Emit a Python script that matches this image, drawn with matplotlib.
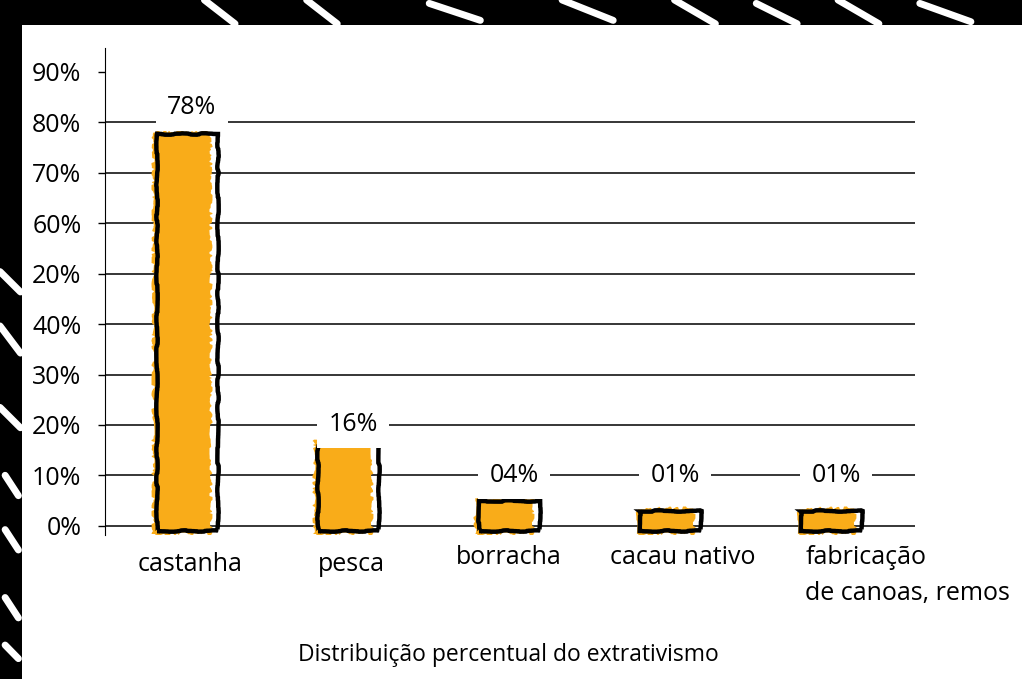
import matplotlib
matplotlib.use("Agg")
import matplotlib.pyplot as plt
import matplotlib.patches as mpatches

# data
categories = ["castanha", "pesca", "borracha", "cacau nativo", "fabricação\nde canoas, remos"]
bar_heights = [77.6, 16.4, 5, 3, 3]
value_labels = ["78%", "16%", "04%", "01%", "01%"]
label_heights = [83, 20, 10, 10, 10]
tick_values = [0, 10, 20, 30, 40, 50, 60, 70, 80, 90]
tick_labels = ["0%", "10%", "20%", "30%", "40%", "20%", "60%", "70%", "80%", "90%"]
xlabel_text = "Distribuição percentual do extrativismo"

ORANGE = "#F9AC19"
plt.rcParams["font.family"] = ["Open Sans", "DejaVu Sans"]

fig = plt.figure(figsize=(10.22, 6.79), dpi=100)
fig.patch.set_facecolor("black")

# white paper panel on the black frame
fig.patches.append(mpatches.Rectangle((22 / 1022, 0), 1, (679 - 25) / 679,
                                      transform=fig.transFigure, facecolor="white",
                                      edgecolor="none", zorder=-2))

# some white chalk strokes on the black frame
strokes = [((0.20, 1.00), (0.23, 0.965)), ((0.30, 1.00), (0.33, 0.965)),
           ((0.42, 0.995), (0.47, 0.97)), ((0.55, 1.00), (0.60, 0.97)),
           ((0.66, 1.00), (0.70, 0.965)), ((0.74, 0.995), (0.78, 0.965)),
           ((0.82, 1.00), (0.86, 0.965)), ((0.90, 0.995), (0.95, 0.968)),
           ((0.0, 0.60), (0.02, 0.57)), ((0.0, 0.52), (0.02, 0.48)),
           ((0.0, 0.40), (0.02, 0.37)), ((0.005, 0.30), (0.018, 0.27)),
           ((0.005, 0.22), (0.018, 0.19)), ((0.005, 0.12), (0.018, 0.09)),
           ((0.005, 0.05), (0.018, 0.03))]
for (x0, y0), (x1, y1) in strokes:
    fig.add_artist(plt.Line2D([x0, x1], [y0, y1], transform=fig.transFigure,
                              color="white", lw=5, solid_capstyle="round", zorder=-1))

ax = fig.add_axes([105 / 1022, 144 / 679, 810 / 1022, 487 / 679])
ax.set_zorder(3)
ax.set_facecolor("none")
x = list(range(len(categories)))

# scribbled orange fill, slightly offset from the outline
fill = ax.bar([i - 0.03 for i in x], [h + 2.2 for h in bar_heights], width=0.36,
              bottom=-1.6, color=ORANGE, edgecolor="none", zorder=3)
for p in fill:
    p.set_sketch_params(scale=1.5, length=40, randomness=40)
outline = ax.bar(x, [h + 1.1 for h in bar_heights], width=0.38, bottom=-1.1,
                 fill=False, edgecolor="black", linewidth=3.2, zorder=4)
for p in outline:
    p.set_sketch_params(scale=0.7, length=120, randomness=20)

for i, (lab, h) in enumerate(zip(value_labels, label_heights)):
    ax.text(i + 0.03, h, lab, ha="center", va="center", fontsize=18, zorder=5,
            bbox=dict(facecolor="white", edgecolor="none", pad=8))

ax.set_xlim(-0.51, 4.52)
ax.set_ylim(-1.8, 94.7)
ax.set_yticks(tick_values)
ax.set_yticklabels(tick_labels, fontsize=18)
ax.set_xticks([])
ax.tick_params(axis="y", direction="out", length=5, width=1, pad=12, colors="black")
ax.yaxis.grid(True, color="black", linewidth=1.1, zorder=1)
ax.get_ygridlines()[-1].set_visible(False)
ax.set_axisbelow(True)
for s in ["top", "right", "bottom"]:
    ax.spines[s].set_visible(False)
ax.spines["left"].set_linewidth(0.8)

# category labels: the last three sit a little higher in the reference
cat_dx = [0.02, 0.02, 0.0, 0.08, -0.16]
cat_y = [-5.2, -5.2, -3.8, -3.8, -3.8]
for i, cat in enumerate(categories):
    ha = "left" if "\n" in cat else "center"
    ax.text(i + cat_dx[i], cat_y[i], cat, ha=ha, va="top", fontsize=18, linespacing=1.6)

fig.text(508 / 1022, 1 - 655 / 679, xlabel_text, ha="center", va="center", fontsize=16.5)

fig.savefig("out.png", dpi=100, facecolor=fig.get_facecolor())
